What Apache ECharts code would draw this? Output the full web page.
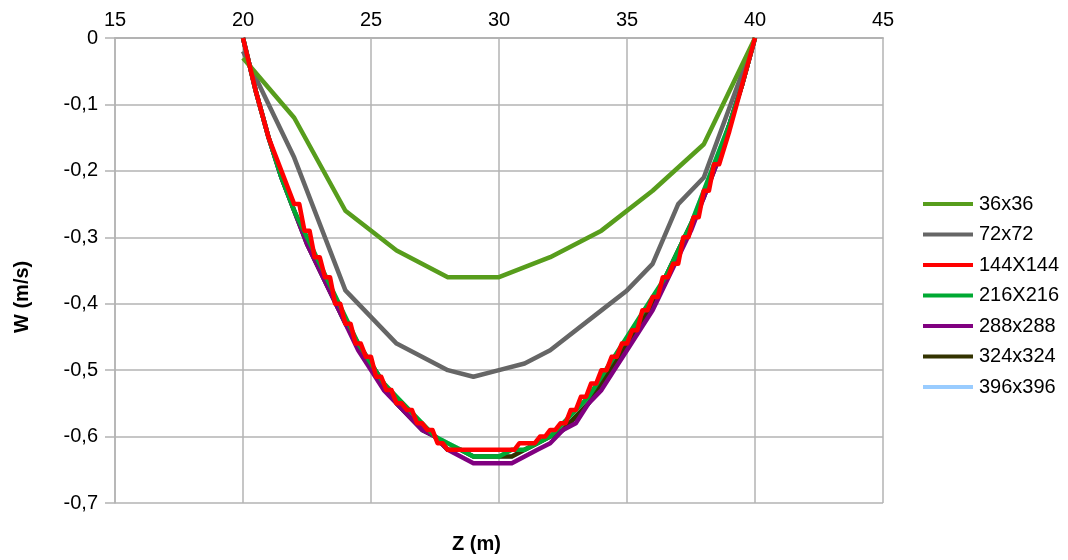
<!DOCTYPE html>
<html>
<head>
<meta charset="utf-8">
<script src="https://cdn.jsdelivr.net/npm/echarts@6/dist/echarts.min.js"></script>
<style>
html,body{margin:0;padding:0;background:#fff;}
#chart{width:1068px;height:560px;}
</style>
</head>
<body>
<div id="chart"></div>
<script>
// ---- data ----
const seriesNames = ['36x36','72x72','144X144','216X216','288x288','324x324','396x396'];
const xTicks = [15,20,25,30,35,40,45];
const yTicks = [0,-0.1,-0.2,-0.3,-0.4,-0.5,-0.6,-0.7];

const z36 = [20,22,24,26,28,30,32,34,36,38,40];
const w36 = [-0.03,-0.12,-0.26,-0.32,-0.36,-0.36,-0.33,-0.29,-0.23,-0.16,0];

const z72 = [20,22,24,26,28,29,30,31,32,34,35,36,37,38,40];
const w72 = [-0.02,-0.18,-0.38,-0.46,-0.50,-0.51,-0.50,-0.49,-0.47,-0.41,-0.38,-0.34,-0.25,-0.21,0];

const z144 = [20,20.5,21,21.5,22,22.2,22.4,22.6,22.8,23,23.2,23.4,23.6,23.8,24,24.2,24.4,24.6,24.8,25,
  25.2,25.4,25.6,25.8,26,26.2,26.4,26.6,26.8,27,27.2,27.4,27.6,27.8,28,30.6,30.8,31.4,31.6,31.8,
  32,32.2,32.4,32.6,32.8,33,33.2,33.4,33.6,33.8,34,34.2,34.4,34.6,34.8,35,35.2,35.4,35.6,35.8,
  36,36.2,36.4,36.6,36.8,37,37.2,37.4,37.6,37.8,38,38.2,38.4,38.6,39,39.5,40];
const w144 = [0,-0.08,-0.15,-0.20,-0.25,-0.25,-0.29,-0.29,-0.33,-0.33,-0.36,-0.36,-0.40,-0.40,-0.43,-0.43,-0.46,-0.46,-0.48,-0.48,
  -0.51,-0.51,-0.53,-0.53,-0.55,-0.55,-0.56,-0.56,-0.58,-0.58,-0.59,-0.59,-0.61,-0.61,-0.62,-0.62,-0.61,-0.61,-0.60,-0.60,
  -0.59,-0.59,-0.58,-0.58,-0.56,-0.56,-0.54,-0.54,-0.52,-0.52,-0.50,-0.50,-0.48,-0.48,-0.46,-0.46,-0.44,-0.44,-0.41,-0.41,
  -0.39,-0.39,-0.36,-0.36,-0.34,-0.34,-0.30,-0.30,-0.27,-0.27,-0.23,-0.23,-0.19,-0.19,-0.14,-0.07,0];

const zFine = [20,20.5,21,21.5,22,22.5,23,23.5,24,24.5,25,25.5,26,26.5,27,27.5,28,28.5,29,29.5,30,
  30.5,31,31.5,32,32.5,33,33.5,34,34.5,35,35.5,36,36.5,37,37.5,38,38.5,39,39.5,40];
const w216 = [0,-0.08,-0.15,-0.21,-0.26,-0.30,-0.34,-0.38,-0.42,-0.46,-0.49,-0.52,-0.54,-0.56,-0.58,-0.60,-0.61,-0.62,-0.63,-0.63,-0.63,
  -0.62,-0.62,-0.61,-0.60,-0.58,-0.56,-0.54,-0.51,-0.48,-0.45,-0.42,-0.39,-0.36,-0.32,-0.28,-0.23,-0.18,-0.13,-0.07,0];
const w288 = [0,-0.08,-0.15,-0.21,-0.26,-0.31,-0.35,-0.39,-0.43,-0.47,-0.50,-0.53,-0.55,-0.57,-0.59,-0.60,-0.62,-0.63,-0.64,-0.64,-0.64,
  -0.64,-0.63,-0.62,-0.61,-0.59,-0.58,-0.55,-0.53,-0.50,-0.47,-0.44,-0.41,-0.37,-0.33,-0.29,-0.24,-0.19,-0.13,-0.07,0];
const w324 = [0,-0.08,-0.15,-0.21,-0.26,-0.31,-0.35,-0.39,-0.43,-0.46,-0.49,-0.52,-0.55,-0.57,-0.59,-0.60,-0.62,-0.62,-0.63,-0.63,-0.63,
  -0.63,-0.62,-0.61,-0.60,-0.59,-0.57,-0.55,-0.52,-0.49,-0.46,-0.43,-0.40,-0.36,-0.32,-0.28,-0.24,-0.19,-0.13,-0.07,0];
const w396 = [0,-0.08,-0.15,-0.21,-0.26,-0.31,-0.35,-0.39,-0.43,-0.46,-0.49,-0.52,-0.55,-0.57,-0.59,-0.60,-0.61,-0.62,-0.63,-0.63,-0.63,
  -0.63,-0.62,-0.61,-0.60,-0.59,-0.57,-0.55,-0.52,-0.49,-0.46,-0.43,-0.40,-0.36,-0.32,-0.28,-0.23,-0.18,-0.13,-0.07,0];

const colors = ['#579d1c','#666666','#ff0000','#00a933','#800080','#333300','#99ccff'];

// ---- chart ----
const pair = (zs, ws) => zs.map((z, i) => [z, ws[i]]);
const seriesData = [
  pair(z36, w36), pair(z72, w72), pair(z144, w144),
  pair(zFine, w216), pair(zFine, w288), pair(zFine, w324), pair(zFine, w396)
];
const zOrder = [5, 4, 9, 3, 2, 1, 0];

const chart = echarts.init(document.getElementById('chart'), null, {renderer: 'canvas'});
const FONT = '"Liberation Sans", Arial, sans-serif';
const gridColor = '#b3b3b3';

chart.setOption({
  backgroundColor: '#ffffff',
  animation: false,
  color: colors,
  textStyle: {fontFamily: FONT},
  grid: {left: 115, right: 185, top: 38, bottom: 57, containLabel: false},
  xAxis: {
    type: 'value', position: 'top', min: xTicks[0], max: xTicks[xTicks.length - 1], interval: 5,
    axisLine: {show: true, onZero: false, lineStyle: {color: gridColor, width: 2}},
    axisTick: {show: false},
    splitLine: {show: true, lineStyle: {color: gridColor, width: 1.5}},
    axisLabel: {color: '#000', fontSize: 20, fontFamily: FONT, margin: 8}
  },
  yAxis: {
    type: 'value', min: yTicks[yTicks.length - 1], max: yTicks[0], interval: 0.1,
    axisLine: {show: true, onZero: false, lineStyle: {color: gridColor, width: 1.5}},
    axisTick: {show: true, inside: false, length: 10, lineStyle: {color: gridColor, width: 1.5}},
    splitLine: {show: true, lineStyle: {color: gridColor, width: 1.5}},
    axisLabel: {
      color: '#000', fontSize: 20, fontFamily: FONT, margin: 17,
      formatter: v => (Math.round(v * 10) / 10).toString().replace('.', ',')
    }
  },
  legend: {
    orient: 'vertical', left: 923, top: 194, padding: 0,
    itemWidth: 50, itemHeight: 4, itemGap: 10.5, icon: 'rect',
    textStyle: {color: '#000', fontSize: 20, fontFamily: FONT, lineHeight: 20, padding: [0, 0, 0, 1]},
    data: seriesNames
  },
  graphic: [
    {type: 'text', left: 452, top: 534, style: {text: 'Z (m)', font: 'bold 20px "Liberation Sans", Arial, sans-serif', fill: '#000'}},
    {type: 'text', x: 12, y: 333, rotation: Math.PI / 2,
     style: {text: 'W (m/s)', font: 'bold 20px "Liberation Sans", Arial, sans-serif', fill: '#000'}}
  ],
  series: seriesNames.map((name, i) => ({
    name: name, type: 'line', data: seriesData[i], showSymbol: false, symbol: 'none',
    z: 2 + zOrder[i], lineStyle: {width: 4.5, color: colors[i], join: 'round'},
    itemStyle: {color: colors[i]}
  }))
});
</script>
</body>
</html>
